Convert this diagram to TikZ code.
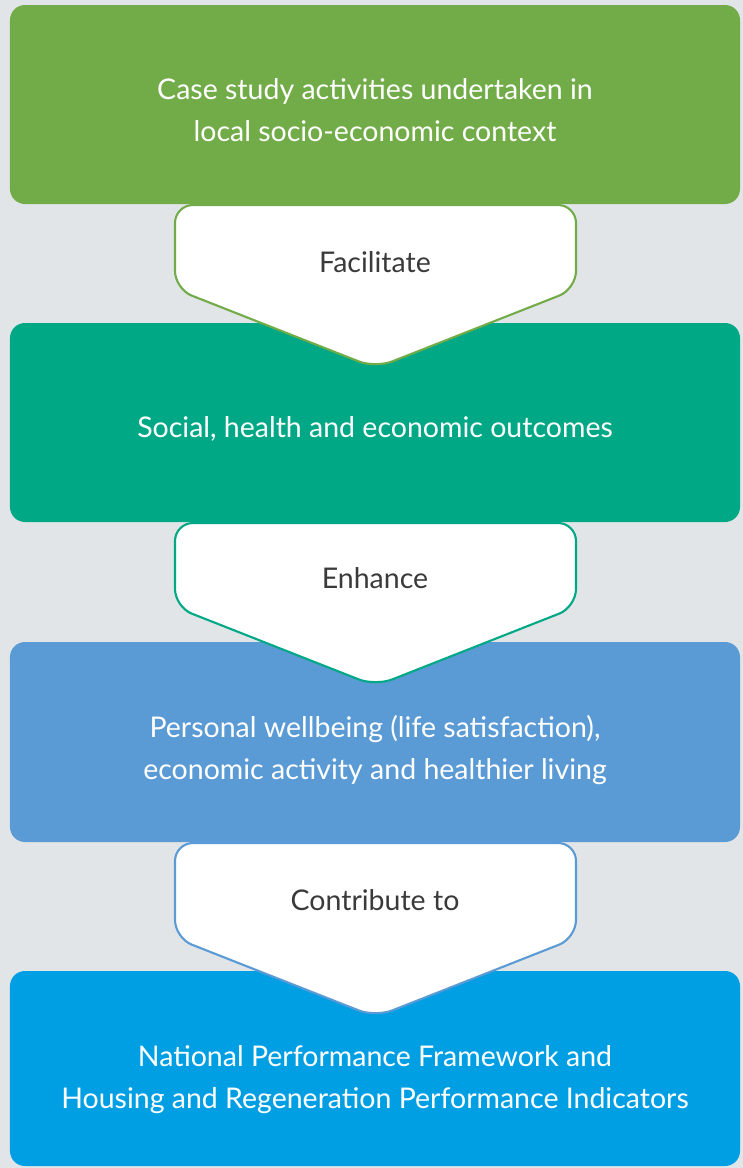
\documentclass[tikz,border=0pt]{standalone}
\usepackage{fontspec}
\setmainfont{Lato}
\definecolor{pagebg}{HTML}{E2E5E8}
\definecolor{stageA}{HTML}{72AC48}
\definecolor{stageB}{HTML}{00A886}
\definecolor{stageC}{HTML}{5B9BD5}
\definecolor{stageD}{HTML}{009FE3}
\definecolor{verbtext}{HTML}{3A3A3A}
\begin{document}
\begin{tikzpicture}[x=1bp,y=-1bp,
  stagebox/.style={rounded corners=15bp, minimum width=730bp, inner sep=0pt, draw=none},
  stagetext/.style={text=white, font=\fontsize{28.6}{42}\selectfont, align=center},
  chevron/.style={fill=white, line width=2.1bp, rounded corners=18bp, line join=round},
  verb/.style={text=verbtext, font=\fontsize{28.6}{42}\selectfont}]
  % page background fixes the picture size
  \fill[pagebg] (0,0) rectangle (743,1168);
  \useasboundingbox (0,0) rectangle (743,1168);

  % the four stages
  \node[stagebox, fill=stageA, minimum height=199bp] (s1) at (375,104.5) {};
  \node[stagebox, fill=stageB, minimum height=199bp] (s2) at (375,422.5) {};
  \node[stagebox, fill=stageC, minimum height=200bp] (s3) at (375,742) {};
  \node[stagebox, fill=stageD, minimum height=195bp] (s4) at (375,1068.5) {};

  \node[stagetext] (t1) at (375,110.5) {Case study activities undertaken in\\local socio-economic context};
  \node[stagetext] (t2) at (375,429) {Social, health and economic outcomes};
  \node[stagetext] (t3) at (375,750) {Personal wellbeing (life satisfaction),\\economic activity and healthier living};
  \node[stagetext] (t4) at (375,1080) {National Performance Framework and\\Housing and Regeneration Performance Indicators};

  % downward chevrons linking the stages
  \draw[chevron, draw=stageA] (175,205) -- (175,289) -- (375.5,368) -- (576,289) -- (576,205) -- cycle;
  \draw[chevron, draw=stageB] (175,523) -- (175,607) -- (375.5,686) -- (576,607) -- (576,523) -- cycle;
  \draw[chevron, draw=stageC] (175,843) -- (175,938) -- (375.5,1017) -- (576,938) -- (576,843) -- cycle;

  \node[verb] (v1) at (375,262) {Facilitate};
  \node[verb] (v2) at (375,578) {Enhance};
  \node[verb] (v3) at (375,900) {Contribute to};
\end{tikzpicture}
\end{document}
